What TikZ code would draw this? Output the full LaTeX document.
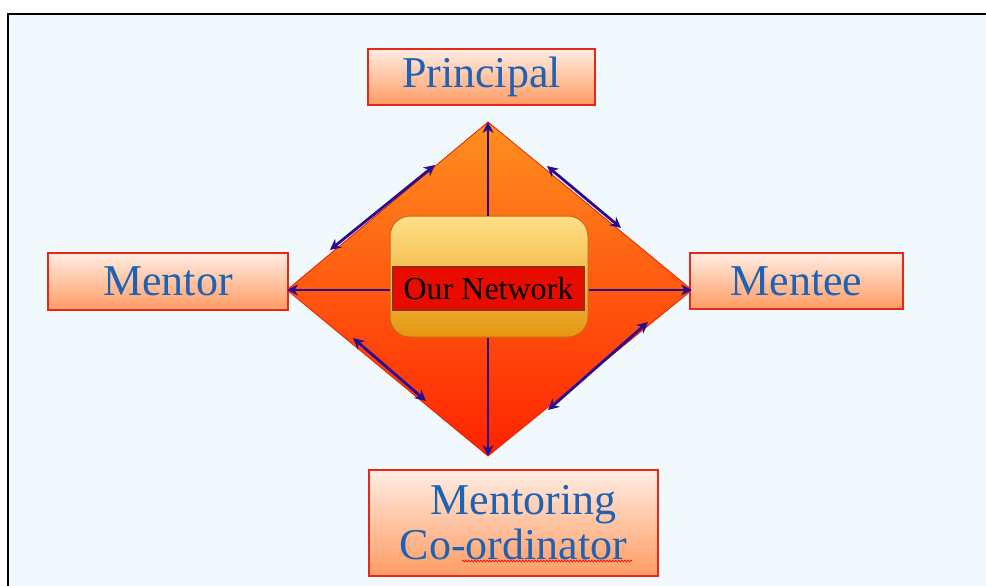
\documentclass[tikz,border=0pt]{standalone}
\usepackage{fontspec}
\setmainfont{Liberation Serif}
\usetikzlibrary{arrows.meta,decorations.pathmorphing}
\definecolor{bg}{HTML}{F2F9FC}
\definecolor{txtblue}{HTML}{1F62B3}
\definecolor{boxtop}{HTML}{FFEDE3}
\definecolor{boxbot}{HTML}{FF9B62}
\definecolor{boxedge}{HTML}{E8261A}
\definecolor{dtopc}{HTML}{FF9020}
\definecolor{dbotc}{HTML}{FF2200}
\definecolor{indig}{HTML}{2C0C8E}
\definecolor{ctop}{HTML}{FFE088}
\definecolor{cbot}{HTML}{E59510}
\definecolor{cedge}{HTML}{C86A10}
\definecolor{redin}{HTML}{E80C00}
\definecolor{redinedge}{HTML}{9A2A10}
\tikzset{
  rolebox/.style={draw=boxedge, line width=1.2pt, top color=boxtop, bottom color=boxbot,
    text=txtblue, inner sep=0pt, font=\fontsize{44}{48}\selectfont},
  link/.style={draw=indig, line width=2.8pt, -{Stealth[length=11pt,width=11pt]}},
  dlink/.style={draw=indig, line width=2.8pt, {Stealth[length=11pt,width=11pt]}-{Stealth[length=11pt,width=11pt]}}
}
\begin{document}
\begin{tikzpicture}[x=1pt,y=-1pt]
\useasboundingbox (0,0) rectangle (986,586);
\fill[white] (0,0) rectangle (986,586);
\fill[bg] (8,14) rectangle (986,586);
\draw[black, line width=2pt] (8,586) -- (8,14) -- (986,14);

% diamond
\coordinate (dtop) at (488,122);
\coordinate (dright) at (692,290);
\coordinate (dbot) at (488,456);
\coordinate (dleft) at (287,290);
\path[top color=dtopc, bottom color=dbotc, draw=dbotc!90!black, line width=0.8pt]
  (dtop) -- (dright) -- (dbot) -- (dleft) -- cycle;

% boxes
\node[rolebox, minimum width=227pt, minimum height=56pt] (principal) at (481.5,77) {Principal};
\node[rolebox, minimum width=240pt, minimum height=57pt] (mentor) at (168,281.5) {Mentor};
\node[rolebox, minimum width=213pt, minimum height=56pt] (mentee) at (796.5,281) {Mentee};
\node[rolebox, minimum width=289pt, minimum height=106pt, align=center,
  font=\fontsize{44}{45}\selectfont] (coord) at (513.5,523) {\hspace*{20pt}Mentoring\\Co-ordinator};

% center
\node[draw=cedge, line width=1pt, rounded corners=20pt, top color=ctop, bottom color=cbot,
  minimum width=198pt, minimum height=121pt] (center) at (489,276.5) {};
\node[draw=redinedge, line width=1.2pt, fill=redin, minimum width=191pt, minimum height=43pt,
  inner sep=0pt, font=\fontsize{32}{34}\selectfont, text=black] (net) at (488.5,288.5) {Our Network};

% connectors
\draw[link] (center.north -| dtop) -- (dtop);
\draw[link] (center.south -| dbot) -- (dbot);
\draw[link] (dleft -| center.west) -- (dleft);
\draw[link] (dright -| center.east) -- (dright);

\coordinate (tla) at (435,165); \coordinate (tlb) at (330,250);
\coordinate (tra) at (547,166); \coordinate (trb) at (621,228);
\coordinate (bra) at (648,322); \coordinate (brb) at (548,410);
\coordinate (bla) at (353,338); \coordinate (blb) at (426,401);
\draw[dlink] (tla) -- (tlb);
\draw[dlink] (tra) -- (trb);
\draw[dlink] (bra) -- (brb);
\draw[dlink] (bla) -- (blb);

% spell-check squiggle
\coordinate (sqa) at (462,561); \coordinate (sqb) at (632,561);
\draw[red, line width=0.6pt, decorate, decoration={zigzag, amplitude=1pt, segment length=3pt}] (sqa) -- (sqb);
\end{tikzpicture}
\end{document}
